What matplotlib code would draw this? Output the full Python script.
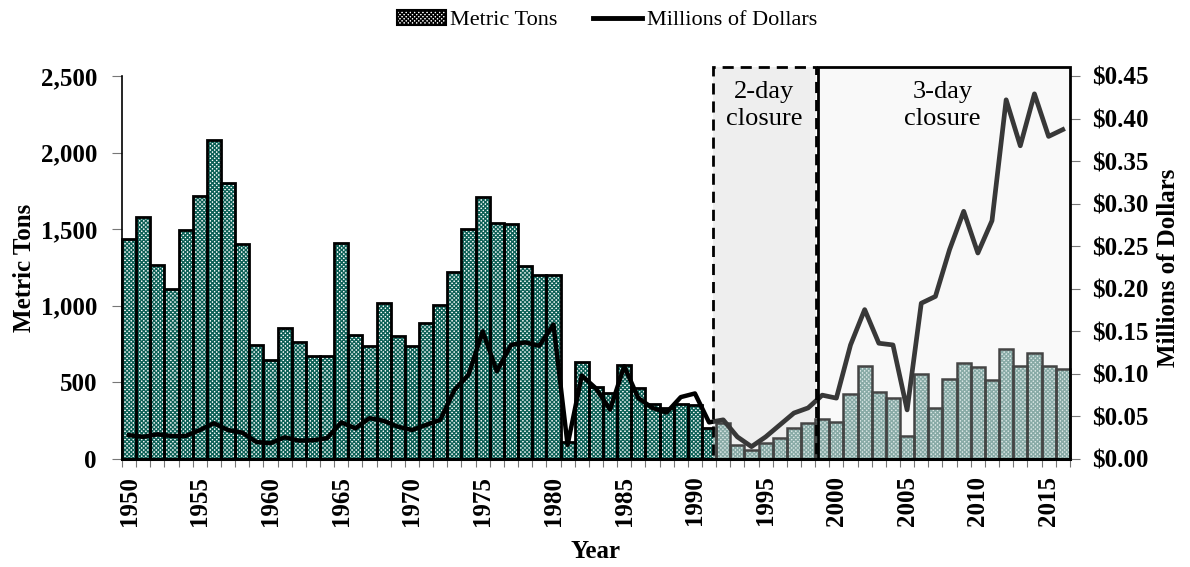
import numpy as np
import matplotlib
matplotlib.use("Agg")
import matplotlib.pyplot as plt
from matplotlib.patches import Rectangle, Patch
from matplotlib.lines import Line2D
from matplotlib.ticker import FuncFormatter

plt.rcParams['font.family'] = ['Liberation Serif', 'DejaVu Serif']
plt.rcParams['hatch.linewidth'] = 1.0

years = np.arange(1950, 2017)

# metric tons landed per year
tons = [1435, 1580, 1265, 1110, 1495, 1715, 2085, 1800, 1405, 745,
        645, 855, 765, 675, 675, 1410, 808, 735, 1020, 803,
        738, 888, 1005, 1222, 1502, 1712, 1540, 1532, 1262, 1200,
        1200, 110, 632, 472, 430, 612, 462, 362, 330, 362,
        352, 200, 235, 92, 59, 103, 135, 201, 238, 260,
        244, 425, 608, 434, 397, 150, 554, 331, 521, 624,
        599, 517, 721, 607, 694, 606, 587]

# ex-vessel value, millions of dollars
dollars = [0.028, 0.026, 0.029, 0.027, 0.027, 0.034, 0.042, 0.034, 0.031, 0.020,
           0.0185, 0.0255, 0.0216, 0.022, 0.0244, 0.043, 0.036, 0.048, 0.0448, 0.038,
           0.034, 0.040, 0.046, 0.081, 0.099, 0.150, 0.103, 0.134, 0.137, 0.133,
           0.158, 0.0165, 0.098, 0.083, 0.058, 0.109, 0.0715, 0.060, 0.0546, 0.0727,
           0.077, 0.043, 0.046, 0.026, 0.0145, 0.026, 0.040, 0.054, 0.060, 0.075,
           0.0715, 0.134, 0.1755, 0.136, 0.134, 0.0577, 0.183, 0.191, 0.246, 0.291,
           0.242, 0.280, 0.422, 0.368, 0.429, 0.379, 0.387]

two_day = (1991.25, 1998.55)
three_day = (1998.7, 2016.5)
box_labels = ["2-day\nclosure", "3-day\nclosure"]

fig = plt.figure(figsize=(11.9, 5.67), dpi=100)
ax = fig.add_axes([0.1025, 0.1905, 0.7965, 0.6755])
ax2 = ax.twinx()

x0, x1 = 1949.5, 2016.5
ax.set_xlim(x0, x1)
ax.set_ylim(0, 2500)
ax2.set_ylim(0, 0.45)
ytop = 2559  # boxes poke a little above the plot area

# shaded backgrounds behind the bars
ax.add_patch(Rectangle((two_day[0], 0), two_day[1] - two_day[0], ytop,
                       facecolor='#eeeeee', edgecolor='none', zorder=0, clip_on=False))
ax.add_patch(Rectangle((three_day[0], 0), three_day[1] - three_day[0], ytop,
                       facecolor='#f9f9f9', edgecolor='none', zorder=0, clip_on=False))

# left part is normal, boxed part is washed out
clip_old = Rectangle((x0 - 1, -500), two_day[0] - x0 + 1, 6000, transform=ax.transData)
clip_new = Rectangle((two_day[0], -500), x1 - two_day[0] + 1, 6000, transform=ax.transData)

b = ax.bar(years, tons, width=1.0, color='white', edgecolor='#0e6157', linewidth=0,
           hatch='xxxxxxxx', zorder=2)
for p in b:
    p.set_clip_path(clip_old)
b = ax.bar(years, tons, width=1.0, facecolor='none', edgecolor='black', linewidth=2.0, zorder=2.1)
for p in b:
    p.set_clip_path(clip_old)
b = ax.bar(years, tons, width=1.0, color='#dbe7e6', edgecolor='#88aaa6', linewidth=0,
           hatch='xxxxxxxx', zorder=2)
for p in b:
    p.set_clip_path(clip_new)
b = ax.bar(years, tons, width=1.0, facecolor='none', edgecolor='#454545', linewidth=1.8, zorder=2.1)
for p in b:
    p.set_clip_path(clip_new)

clip_old2 = Rectangle((x0 - 1, -1), two_day[0] - x0 + 1, 3, transform=ax2.transData)
clip_new2 = Rectangle((two_day[0], -1), x1 - two_day[0] + 1, 3, transform=ax2.transData)
l1, = ax2.plot(years, dollars, color='black', linewidth=3.2, zorder=3)
l1.set_clip_path(clip_old2)
l2, = ax2.plot(years, dollars, color='#383838', linewidth=3.4, zorder=3)
l2.set_clip_path(clip_new2)

# closure boxes
ytop2 = ytop / 2500 * 0.45
ax2.add_patch(Rectangle((two_day[0], 0), two_day[1] - two_day[0], ytop2, facecolor='none',
                        edgecolor='black', linewidth=2, linestyle=(0, (4, 2.5)),
                        zorder=5, clip_on=False))
ax2.add_patch(Rectangle((three_day[0], 0), three_day[1] - three_day[0], ytop2, facecolor='none',
                        edgecolor='black', linewidth=2, zorder=5, clip_on=False))
ax2.text((two_day[0] + two_day[1]) / 2, 0.4155, box_labels[0], ha='center', va='center',
         fontsize=19, linespacing=1.3, zorder=6)
ax2.text(2007.5, 0.4155, box_labels[1], ha='center', va='center',
         fontsize=19, linespacing=1.3, zorder=6)

# x ticks: marks between bars, labels every 5 years
ax.set_xticks(np.arange(x0, x1 + 0.1, 1.0))
ax.set_xticklabels([])
ax.set_xticks(np.arange(1950, 2016, 5), minor=True)
ax.set_xticklabels([str(y) for y in range(1950, 2016, 5)], minor=True, rotation=90,
                   fontsize=18, fontweight='bold')
ax.tick_params(axis='x', which='major', length=6, color='#777777', direction='out')
ax.tick_params(axis='x', which='minor', length=0, pad=12)
ax.set_xlabel('Year', fontsize=18, fontweight='bold', labelpad=10)

ax.set_yticks(np.arange(0, 2501, 500))
ax.yaxis.set_major_formatter(FuncFormatter(lambda v, p: f'{int(v):,}'))
ax.tick_params(axis='y', length=7, color='#777777', labelsize=18, pad=11)
for t in ax.get_yticklabels():
    t.set_fontweight('bold')
ax.set_ylabel('Metric Tons', fontsize=18, fontweight='bold', labelpad=3)

ax2.set_yticks(np.arange(0, 0.451, 0.05))
ax2.yaxis.set_major_formatter(FuncFormatter(lambda v, p: f'${v:.2f}'))
ax2.tick_params(axis='y', length=7, color='#777777', labelsize=18, pad=9)
for t in ax2.get_yticklabels():
    t.set_fontweight('bold')
ax2.set_ylabel('Millions of Dollars', fontsize=18, fontweight='bold', labelpad=6)

for a in (ax, ax2):
    a.spines['top'].set_visible(False)
    a.spines['right'].set_visible(False)
ax2.spines['left'].set_visible(False)
ax2.spines['bottom'].set_visible(False)
ax.spines['left'].set_linewidth(1.2)
ax.spines['bottom'].set_linewidth(2.2)
ax.spines['bottom'].set_zorder(6)

handles = [Patch(facecolor='white', edgecolor='black', hatch='xxxxxxxx', linewidth=1.5),
           Line2D([0], [0], color='black', linewidth=3.5)]
fig.legend(handles, ['Metric Tons', 'Millions of Dollars'], loc='upper center',
           bbox_to_anchor=(0.51, 1.018), ncol=2, frameon=False, fontsize=16,
           handlelength=2.2, handletextpad=0.2, columnspacing=1.6)

fig.savefig('out.png', dpi=100)
